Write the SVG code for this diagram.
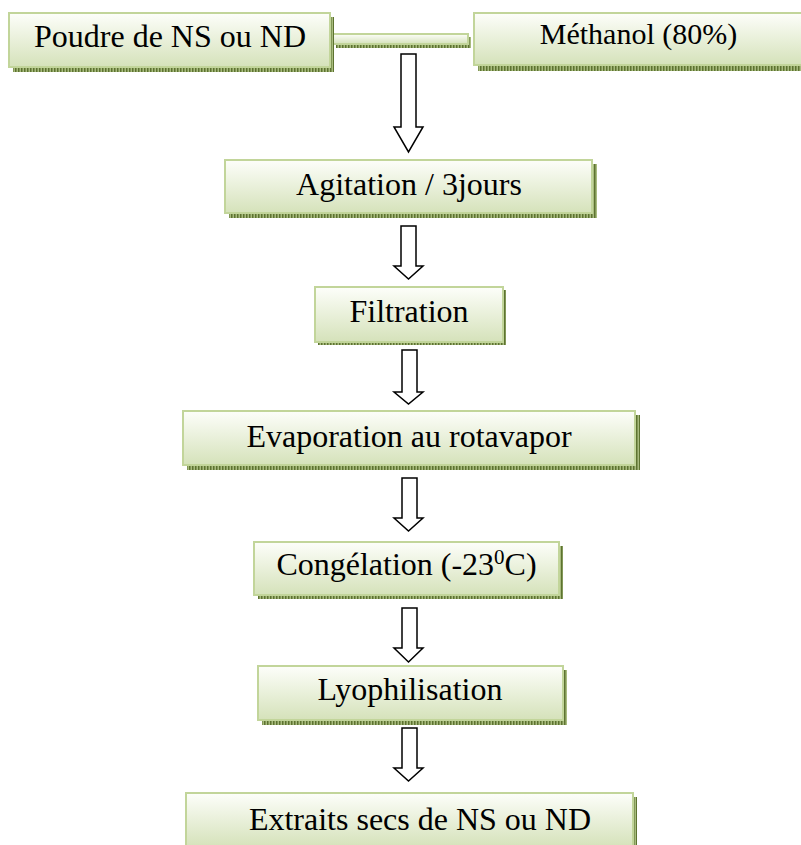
<svg xmlns="http://www.w3.org/2000/svg" width="801" height="845" viewBox="0 0 801 845">
<defs>
<linearGradient id="g" x1="0" y1="0" x2="0" y2="1">
<stop offset="0" stop-color="#fdfefa"/>
<stop offset="1" stop-color="#d5e2ba"/>
</linearGradient>
<pattern id="sh" width="3" height="3" patternUnits="userSpaceOnUse">
<rect width="3" height="3" fill="#a8bb7e"/>
<rect width="1.5" height="3" fill="#5d7330"/>
</pattern>
</defs>
<style>
.box{fill:url(#g);stroke:#c2d59a;stroke-width:2}
.shadow{fill:url(#sh)}
.t{font-family:"Liberation Serif","Times New Roman",serif;font-size:32px;fill:#000;text-anchor:middle}
.arrow{fill:#fff;stroke:#000;stroke-width:1.5;stroke-linejoin:miter}
</style>
<rect width="801" height="845" fill="#fff"/>
<g id="connectors">
<g id="bar">
<rect class="shadow" x="336" y="37" width="135" height="11"/>
<rect class="box" x="333" y="34" width="135" height="10"/>
</g>
<polygon class="arrow" points="401,54 416,54 416,127 423,127 408.5,152 394,127 401,127"/>
<polygon class="arrow" points="401,226 416,226 416,266 423,266 408.5,279 394,266 401,266"/>
<polygon class="arrow" points="402,350 417,350 417,392 423,392 408.5,404 394,392 402,392"/>
<polygon class="arrow" points="402,478 417,478 417,518 423,518 408.5,531 394,518 402,518"/>
<polygon class="arrow" points="402,608 417,608 417,648 423,648 408.5,662 394,648 402,648"/>
<polygon class="arrow" points="402,728 417,728 417,768 423,768 408.5,781 394,768 402,768"/>
</g>
<g id="poudre">
<rect class="shadow" x="13" y="17" width="321" height="55"/>
<rect class="box" x="9" y="13" width="321" height="54"/>
<text class="t" x="170" y="47">Poudre de NS ou ND</text>
</g>
<g id="methanol">
<rect class="shadow" x="478" y="17" width="330" height="54"/>
<rect class="box" x="474" y="13" width="330" height="52"/>
<text class="t" x="638.5" y="44" style="font-size:30px">Méthanol (80%)</text>
</g>
<g id="agitation">
<rect class="shadow" x="229" y="164" width="368" height="54"/>
<rect class="box" x="225" y="160" width="367" height="53"/>
<text class="t" x="409" y="195">Agitation / 3jours</text>
</g>
<g id="filtration">
<rect class="shadow" x="318" y="290" width="188" height="55"/>
<rect class="box" x="315" y="287" width="188" height="55"/>
<text class="t" x="409" y="322">Filtration</text>
</g>
<g id="evaporation">
<rect class="shadow" x="187" y="415" width="453" height="55"/>
<rect class="box" x="183" y="411" width="452" height="54"/>
<text class="t" x="409" y="447">Evaporation au rotavapor</text>
</g>
<g id="congelation">
<rect class="shadow" x="258" y="546" width="305" height="53"/>
<rect class="box" x="254" y="542" width="305" height="53"/>
<text class="t" x="406.5" y="575">Congélation (-23<tspan dy="-11" style="font-size:21px">0</tspan><tspan dy="11">C)</tspan></text>
</g>
<g id="lyophilisation">
<rect class="shadow" x="262" y="670" width="305" height="55"/>
<rect class="box" x="258" y="666" width="305" height="54"/>
<text class="t" x="410" y="700">Lyophilisation</text>
</g>
<g id="extraits">
<rect class="shadow" x="190" y="797" width="447" height="55"/>
<rect class="box" x="186" y="793" width="447" height="54"/>
<text class="t" x="420" y="830">Extraits secs de NS ou ND</text>
</g>
</svg>
